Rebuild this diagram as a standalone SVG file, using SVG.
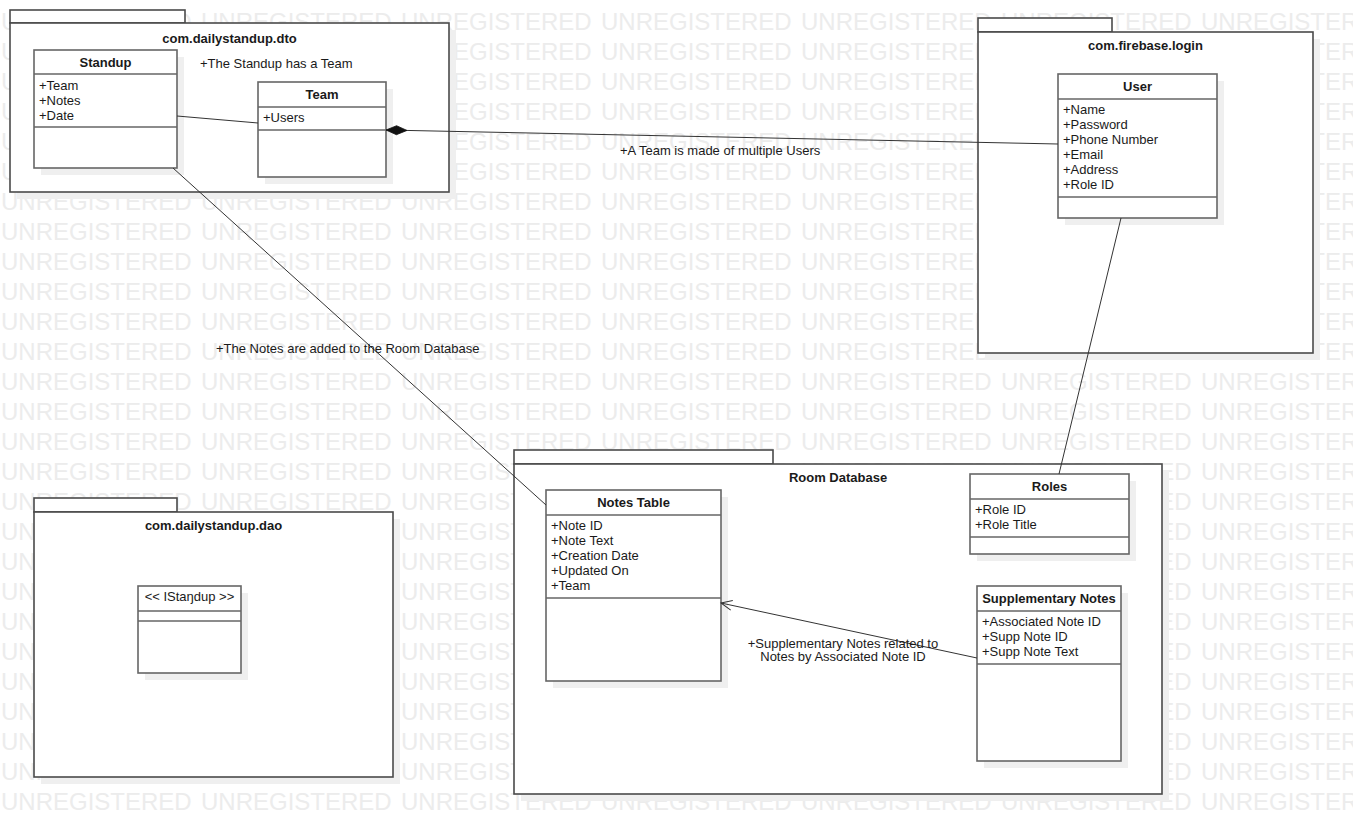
<svg xmlns="http://www.w3.org/2000/svg" width="1353" height="834" viewBox="0 0 1353 834">
<style>
.wm{font-family:"Liberation Sans",Arial,sans-serif;font-size:24px;fill:#ececec}
.shadow{fill:#efefef;stroke:none}
.pkg{fill:#fff;stroke:#4a4a4a;stroke-width:1.6}
.cls{fill:#fff;stroke:#666;stroke-width:1.6}
.sep{stroke:#666;stroke-width:1.6;fill:none}
.t{font-family:"Liberation Sans",Arial,sans-serif;font-size:13px;fill:#1a1a1a}
.b{font-weight:bold;text-anchor:middle}
.c{text-anchor:middle}
.conn{stroke:#333;stroke-width:1;fill:none}
</style>
<defs>
<marker id="diamond" markerUnits="userSpaceOnUse" orient="auto" refX="0" refY="0" markerWidth="30" markerHeight="12" overflow="visible">
<path d="M0,0 L10.5,-4.5 L21,0 L10.5,4.5 Z" fill="#111" stroke="#111" stroke-width="0.8"/>
</marker>
<marker id="openArrow" markerUnits="userSpaceOnUse" orient="auto" refX="0" refY="0" markerWidth="14" markerHeight="14" overflow="visible">
<path d="M-11,-5 L0,0 L-11,5" fill="none" stroke="#333" stroke-width="1"/>
</marker>
<g id="wmrow">
<text class="wm" x="1" y="0">UNREGISTERED</text>
<text class="wm" x="201" y="0">UNREGISTERED</text>
<text class="wm" x="401" y="0">UNREGISTERED</text>
<text class="wm" x="601" y="0">UNREGISTERED</text>
<text class="wm" x="801" y="0">UNREGISTERED</text>
<text class="wm" x="1001" y="0">UNREGISTERED</text>
<text class="wm" x="1201" y="0">UNREGISTERED</text>
</g>
</defs>
<rect x="0" y="0" width="1353" height="834" fill="#fff"/>
<g id="watermark">
<use href="#wmrow" y="30"/><use href="#wmrow" y="60"/><use href="#wmrow" y="90"/><use href="#wmrow" y="120"/>
<use href="#wmrow" y="150"/><use href="#wmrow" y="180"/><use href="#wmrow" y="210"/><use href="#wmrow" y="240"/>
<use href="#wmrow" y="270"/><use href="#wmrow" y="300"/><use href="#wmrow" y="330"/><use href="#wmrow" y="360"/>
<use href="#wmrow" y="390"/><use href="#wmrow" y="420"/><use href="#wmrow" y="450"/><use href="#wmrow" y="480"/>
<use href="#wmrow" y="510"/><use href="#wmrow" y="540"/><use href="#wmrow" y="570"/><use href="#wmrow" y="600"/>
<use href="#wmrow" y="630"/><use href="#wmrow" y="660"/><use href="#wmrow" y="690"/><use href="#wmrow" y="720"/>
<use href="#wmrow" y="750"/><use href="#wmrow" y="780"/><use href="#wmrow" y="810"/>
</g>

<g id="pkg-dto">
<rect class="shadow" x="17" y="30" width="439" height="169"/>
<rect class="pkg" x="10" y="10" width="175" height="13"/>
<rect class="pkg" x="10" y="23" width="439" height="169"/>
<text class="t b" x="229.5" y="43">com.dailystandup.dto</text>
</g>
<g id="pkg-firebase">
<rect class="shadow" x="985" y="39" width="335" height="321"/>
<rect class="pkg" x="978" y="18" width="134" height="14"/>
<rect class="pkg" x="978" y="32" width="335" height="321"/>
<text class="t b" x="1145.5" y="50">com.firebase.login</text>
</g>
<g id="pkg-dao">
<rect class="shadow" x="41" y="519" width="359" height="265"/>
<rect class="pkg" x="34" y="498" width="143" height="14"/>
<rect class="pkg" x="34" y="512" width="359" height="265"/>
<text class="t b" x="213.5" y="530">com.dailystandup.dao</text>
</g>
<g id="pkg-room">
<rect class="shadow" x="521" y="471" width="648" height="330"/>
<rect class="pkg" x="514" y="450" width="259" height="14"/>
<rect class="pkg" x="514" y="464" width="648" height="330"/>
<text class="t b" x="838" y="482">Room Database</text>
</g>

<g id="class-standup">
<rect class="shadow" x="41" y="57" width="143" height="118"/>
<rect class="cls" x="34" y="50" width="143" height="118"/>
<line class="sep" x1="34" y1="74" x2="177" y2="74"/>
<line class="sep" x1="34" y1="127" x2="177" y2="127"/>
<text class="t b" x="105.5" y="67">Standup</text>
<text class="t" x="39" y="90">+Team</text>
<text class="t" x="39" y="105">+Notes</text>
<text class="t" x="39" y="120">+Date</text>
</g>
<g id="class-team">
<rect class="shadow" x="265" y="89" width="128" height="95"/>
<rect class="cls" x="258" y="82" width="128" height="95"/>
<line class="sep" x1="258" y1="107" x2="386" y2="107"/>
<line class="sep" x1="258" y1="130" x2="386" y2="130"/>
<text class="t b" x="322" y="99">Team</text>
<text class="t" x="263" y="122">+Users</text>
</g>
<g id="class-user">
<rect class="shadow" x="1065" y="81" width="159" height="144"/>
<rect class="cls" x="1058" y="74" width="159" height="144"/>
<line class="sep" x1="1058" y1="99" x2="1217" y2="99"/>
<line class="sep" x1="1058" y1="197" x2="1217" y2="197"/>
<text class="t b" x="1137.5" y="91">User</text>
<text class="t" x="1063" y="114">+Name</text>
<text class="t" x="1063" y="129">+Password</text>
<text class="t" x="1063" y="144">+Phone Number</text>
<text class="t" x="1063" y="159">+Email</text>
<text class="t" x="1063" y="174">+Address</text>
<text class="t" x="1063" y="189">+Role ID</text>
</g>
<g id="class-istandup">
<rect class="shadow" x="145" y="593" width="103" height="87"/>
<rect class="cls" x="138" y="586" width="103" height="87"/>
<line class="sep" x1="138" y1="611" x2="241" y2="611"/>
<line class="sep" x1="138" y1="621" x2="241" y2="621"/>
<text class="t c" x="189.5" y="601">&lt;&lt; IStaŋdup &gt;&gt;</text>
</g>
<g id="class-notes">
<rect class="shadow" x="553" y="497" width="175" height="191"/>
<rect class="cls" x="546" y="490" width="175" height="191"/>
<line class="sep" x1="546" y1="515" x2="721" y2="515"/>
<line class="sep" x1="546" y1="598" x2="721" y2="598"/>
<text class="t b" x="633.5" y="507">Notes Table</text>
<text class="t" x="551" y="530">+Note ID</text>
<text class="t" x="551" y="545">+Note Text</text>
<text class="t" x="551" y="560">+Creation Date</text>
<text class="t" x="551" y="575">+Updated On</text>
<text class="t" x="551" y="590">+Team</text>
</g>
<g id="class-roles">
<rect class="shadow" x="977" y="481" width="159" height="80"/>
<rect class="cls" x="970" y="474" width="159" height="80"/>
<line class="sep" x1="970" y1="499" x2="1129" y2="499"/>
<line class="sep" x1="970" y1="537" x2="1129" y2="537"/>
<text class="t b" x="1049.5" y="491">Roles</text>
<text class="t" x="975" y="514">+Role ID</text>
<text class="t" x="975" y="529">+Role Title</text>
</g>
<g id="class-supp">
<rect class="shadow" x="984" y="593" width="144" height="175"/>
<rect class="cls" x="977" y="586" width="144" height="175"/>
<line class="sep" x1="977" y1="611" x2="1121" y2="611"/>
<line class="sep" x1="977" y1="664" x2="1121" y2="664"/>
<text class="t b" x="1049" y="603">Supplementary Notes</text>
<text class="t" x="982" y="626">+Associated Note ID</text>
<text class="t" x="982" y="641">+Supp Note ID</text>
<text class="t" x="982" y="656">+Supp Note Text</text>
</g>

<g id="connectors">
<line class="conn" x1="177" y1="116" x2="258" y2="123"/>
<text class="t" x="200" y="68">+The Standup has a Team</text>
<path class="conn" d="M386,130 L1058,144" marker-start="url(#diamond)"/>
<text class="t" x="620" y="155">+A Team is made of multiple Users</text>
<line class="conn" x1="173" y1="168" x2="546" y2="505"/>
<text class="t" x="216" y="353">+The Notes are added to the Room Database</text>
<line class="conn" x1="1121" y1="218" x2="1059" y2="474"/>
<path class="conn" d="M977,658 L721,603" marker-end="url(#openArrow)"/>
<text class="t c" x="843" y="648">+Supplementary Notes related to</text>
<text class="t c" x="843" y="661">Notes by Associated Note ID</text>
</g>
</svg>
